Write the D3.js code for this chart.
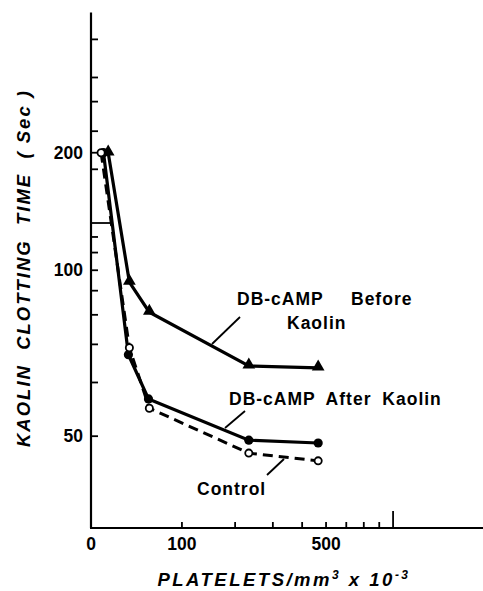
<!DOCTYPE html>
<html>
<head>
<meta charset="utf-8">
<script src="https://cdn.jsdelivr.net/npm/d3@7"></script>
<style>
html,body{margin:0;padding:0;background:#fff;}
svg{display:block;}
text{fill:#000;}
</style>
</head>
<body>
<svg id="chart" width="483" height="591"></svg>
<script>
// ---- data (platelets x10^-3 per mm3, clotting time in seconds) ----
const plateletsBefore  = [14, 34, 56, 233, 465];
const plateletsAfter   = [10, 33, 55, 233, 465];
const plateletsControl = [8, 34, 56, 233, 465];
const timeBefore  = [200, 94, 81, 64, 63.5];
const timeAfter   = [200, 67, 56.5, 49.4, 49];
const timeControl = [200, 69, 54.7, 47.6, 46.6];

// graph-paper (log cycle) ticks
const xMinorTicks = [100, 200, 300, 400, 500, 600, 700, 800];
const xMajorTicks = [900];
const xTickLabels = [0, 100, 500];
const yMinorTicks = [50, 60, 70, 80, 90, 100, 110, 120, 180, 200, 230, 280, 330, 430];
const yMajorTicks = [130];
const yTickLabels = [50, 100, 200];

// the log paper is offset: x plotted as (platelets+100)/100, y as (time-30)/10
const toPaperX = p => (p + 100) / 100;
const toPaperY = t => (t - 30) / 10;

const svg = d3.select("#chart");
const xs = d3.scaleLog().domain([1, 20]).range([91, 484]);
const ys = d3.scaleLog().domain([1, 49]).range([528, 12.5]);
const X = p => xs(toPaperX(p));
const Y = t => ys(toPaperY(t));

// axes lines
svg.append("line").attr("x1", xs(1)).attr("x2", xs(1)).attr("y1", ys(49)).attr("y2", ys(1))
  .attr("stroke", "#000").attr("stroke-width", 2.2);
svg.append("line").attr("x1", xs(1) - 1).attr("x2", xs(20)).attr("y1", ys(1)).attr("y2", ys(1))
  .attr("stroke", "#000").attr("stroke-width", 2.2);

// y ticks (inward)
svg.selectAll(".yt").data(yMinorTicks).enter().append("line")
  .attr("x1", xs(1)).attr("x2", xs(1) + 7)
  .attr("y1", d => Y(d)).attr("y2", d => Y(d))
  .attr("stroke", "#000").attr("stroke-width", 1.8);
svg.selectAll(".ytM").data(yMajorTicks).enter().append("line")
  .attr("x1", xs(1)).attr("x2", xs(1) + 21)
  .attr("y1", d => Y(d)).attr("y2", d => Y(d))
  .attr("stroke", "#000").attr("stroke-width", 1.8);
svg.selectAll(".yl").data(yTickLabels).enter().append("text")
  .attr("x", xs(1) - 8).attr("y", d => Y(d) + 6)
  .attr("text-anchor", "end")
  .style("font-family", "Liberation Sans, Arial, sans-serif")
  .style("font-size", "17.5px").style("font-weight", "bold")
  .text(d => d);

// x ticks (upward)
svg.selectAll(".xt").data(xMinorTicks).enter().append("line")
  .attr("x1", d => X(d)).attr("x2", d => X(d))
  .attr("y1", ys(1)).attr("y2", ys(1) - 6)
  .attr("stroke", "#000").attr("stroke-width", 1.8);
svg.selectAll(".xtM").data(xMajorTicks).enter().append("line")
  .attr("x1", d => X(d)).attr("x2", d => X(d))
  .attr("y1", ys(1)).attr("y2", ys(1) - 17)
  .attr("stroke", "#000").attr("stroke-width", 1.8);
svg.selectAll(".xl").data(xTickLabels).enter().append("text")
  .attr("x", d => X(d)).attr("y", ys(1) + 22)
  .attr("text-anchor", "middle")
  .style("font-family", "Liberation Sans, Arial, sans-serif")
  .style("font-size", "17.5px").style("font-weight", "bold")
  .text(d => d);

// series
const mk = (xsArr, ysArr) => xsArr.map((p, i) => ({p, t: ysArr[i]}));
const before = mk(plateletsBefore, timeBefore);
const after = mk(plateletsAfter, timeAfter);
const control = mk(plateletsControl, timeControl);
const line = d3.line().x(d => X(d.p)).y(d => Y(d.t));

svg.append("path").datum(control).attr("d", line).attr("fill", "none")
  .attr("stroke", "#000").attr("stroke-width", 3).attr("stroke-dasharray", "10,6");
svg.append("path").datum(after).attr("d", line).attr("fill", "none")
  .attr("stroke", "#000").attr("stroke-width", 3.2);
svg.append("path").datum(before).attr("d", line).attr("fill", "none")
  .attr("stroke", "#000").attr("stroke-width", 3.2);

svg.selectAll(".mb").data(before).enter().append("path")
  .attr("d", d3.symbol().type(d3.symbolTriangle).size(70))
  .attr("transform", d => `translate(${X(d.p)},${Y(d.t) - 1})`)
  .attr("fill", "#000");
svg.selectAll(".ma").data(after).enter().append("circle")
  .attr("cx", d => X(d.p)).attr("cy", d => Y(d.t)).attr("r", 4.6).attr("fill", "#000");
svg.selectAll(".mc").data(control).enter().append("circle")
  .attr("cx", d => X(d.p)).attr("cy", d => Y(d.t)).attr("r", 3.6)
  .attr("fill", "#fff").attr("stroke", "#000").attr("stroke-width", 1.8);

// annotations
const annFont = "Liberation Sans, Arial, sans-serif";
function ann(txt, x, y) {
  svg.append("text").attr("x", x).attr("y", y)
    .style("font-family", annFont).style("font-size", "17.5px").style("font-weight", "bold")
    .style("letter-spacing", "1px").style("word-spacing", "5px")
    .text(txt);
}
ann("DB-cAMP", 237, 305);
ann("Before", 351, 305);
ann("Kaolin", 287, 329);
ann("DB-cAMP After Kaolin", 229, 405);
ann("Control", 197, 495);
const leader = (x1, y1, x2, y2) => svg.append("line").attr("x1", x1).attr("y1", y1)
  .attr("x2", x2).attr("y2", y2).attr("stroke", "#000").attr("stroke-width", 1.8);
leader(240, 317, 212, 344);
leader(245, 411, 225, 428);
leader(267, 475, 284, 459);

// axis titles
svg.append("text")
  .attr("transform", "translate(30,268) rotate(-90)")
  .attr("text-anchor", "middle")
  .style("font-family", annFont).style("font-size", "18.5px").style("font-weight", "bold")
  .style("font-style", "italic").style("letter-spacing", "2px").attr("xml:space", "preserve")
  .text("KAOLIN  CLOTTING  TIME  ( Sec )");

const xt = svg.append("text").attr("x", 284).attr("y", 586).attr("text-anchor", "middle")
  .style("font-family", annFont).style("font-size", "18.5px").style("font-weight", "bold")
  .style("font-style", "italic").style("letter-spacing", "2.5px");
xt.append("tspan").text("PLATELETS/mm");
xt.append("tspan").attr("dy", -7).style("font-size", "12px").text("3");
xt.append("tspan").attr("dy", 7).text(" x 10");
xt.append("tspan").attr("dy", -7).style("font-size", "12px").text("-3");
</script>
</body>
</html>
